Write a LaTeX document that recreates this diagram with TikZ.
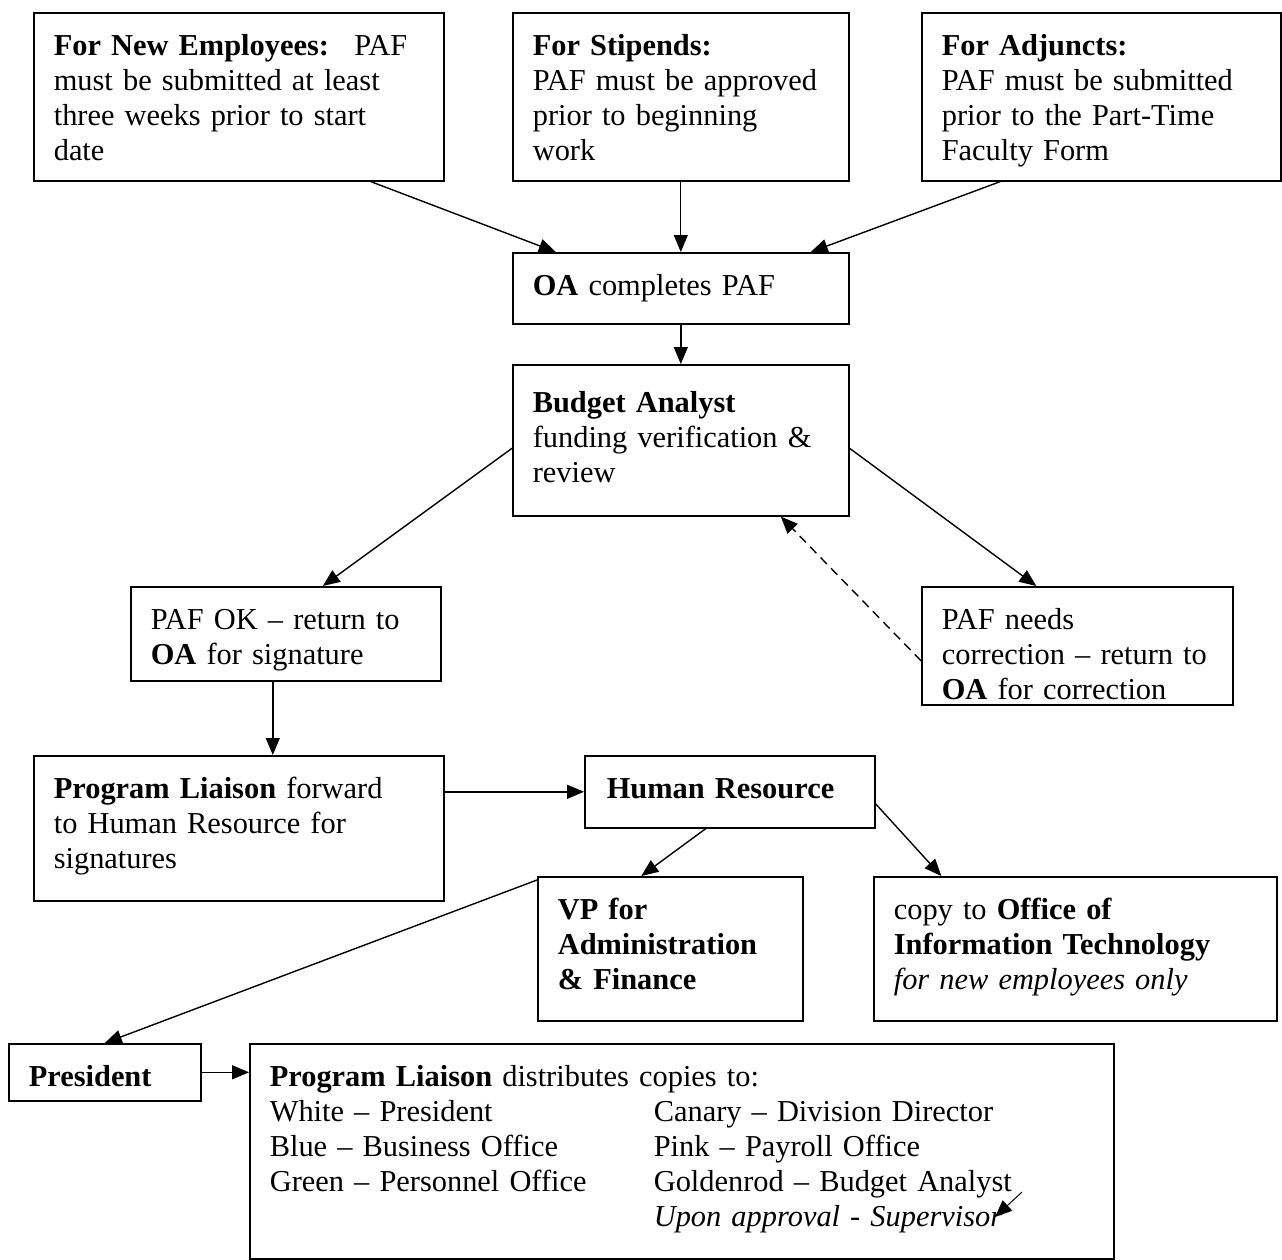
\documentclass[tikz,border=0pt]{standalone}
\usepackage{fontspec}
\setmainfont{Liberation Serif}
\usetikzlibrary{arrows.meta}

\begin{document}
\begin{tikzpicture}[x=1pt,y=-1pt,font=\fontsize{30.4}{35}\selectfont]
    % Define styles
    \tikzset{
        stepbox/.style={rectangle, draw, line width=1.6pt, anchor=north west, align=left,
            inner xsep=20pt, inner ysep=0pt, text height=43pt},
        arrow/.style={-{Triangle[length=17pt,width=14pt]}, line width=1.4pt},
        backarrow/.style={arrow, dashed, dash pattern=on 9pt off 6pt},
    }
    \useasboundingbox (0,0) rectangle (1282,1260);

    % Submission rules
    \node[stepbox, text width=370pt, text depth=125pt] (newemp) at (33,12)
        {\textbf{For New Employees:}~ PAF\\must be submitted at least\\three weeks prior to start\\date};
    \node[stepbox, text width=296pt, text depth=125pt] (stipends) at (512,12)
        {\textbf{For Stipends:}\\PAF must be approved\\prior to beginning\\work};
    \node[stepbox, text width=319pt, text depth=125pt] (adjuncts) at (921,12)
        {\textbf{For Adjuncts:}\\PAF must be submitted\\prior to the Part-Time\\Faculty Form};

    % Review
    \node[stepbox, text width=296pt, text depth=28pt] (oa) at (512,252)
        {\textbf{OA} completes PAF};
    \node[stepbox, text width=296pt, text height=48pt, text depth=103pt] (analyst) at (512,364)
        {\textbf{Budget Analyst}\\funding verification \&\\review};
    \node[stepbox, text width=270pt, text depth=51pt] (pafok) at (130,586)
        {PAF OK -- return to\\\textbf{OA} for signature};
    \node[stepbox, text width=271pt, text depth=75pt] (pafbad) at (921,586)
        {PAF needs\\correction -- return to\\\textbf{OA} for correction};

    % Signatures
    \node[stepbox, text width=370pt, text depth=102pt] (liaison) at (33,755)
        {\textbf{Program Liaison} forward\\to Human Resource for\\signatures};
    \node[stepbox, text width=250pt, text depth=29pt, inner xsep=22pt, text width=246pt] (hr) at (584,755)
        {\textbf{Human Resource}};
    \node[stepbox, text width=225pt, text depth=101pt] (vp) at (537,876)
        {\textbf{VP for}\\\textbf{Administration}\\\textbf{\& Finance}};
    \node[stepbox, text width=363pt, text depth=101pt] (oit) at (873,876)
        {copy to \textbf{Office of}\\\textbf{Information Technology}\\\textit{for new employees only}};
    \node[stepbox, text width=152pt, text depth=14pt] (president) at (8,1043)
        {\textbf{President}};
    \node[stepbox, text width=824pt, text depth=172pt] (copies) at (249,1043)
        {\begin{tabular}[t]{@{}p{384pt}@{}l@{}}
         \multicolumn{2}{@{}l@{}}{\textbf{Program Liaison} distributes copies to:}\\
         White -- President & Canary -- Division Director\\
         Blue -- Business Office & Pink -- Payroll Office\\
         Green -- Personnel Office & Goldenrod -- Budget Analyst\\
         & \textit{Upon approval - Supervisor}
         \end{tabular}};

    \coordinate (noteA) at (1022,1192);
    \coordinate (noteB) at (995,1217);

    % Connectors
    \draw[arrow] ([xshift=132pt]newemp.south) -- ([xshift=-125pt]oa.north);
    \draw[arrow, line width=1pt] (stipends.south) -- (oa.north);
    \draw[arrow] ([xshift=-101pt]adjuncts.south) -- ([xshift=130pt]oa.north);
    \draw[arrow] (oa.south) -- (analyst.north);
    \draw[arrow] ([yshift=-8pt]analyst.west) -- ([xshift=37pt]pafok.north);
    \draw[arrow] ([yshift=-8pt]analyst.east) -- ([xshift=-41pt]pafbad.north);
    \draw[backarrow] ([yshift=-15pt]pafbad.west) -- ([xshift=100pt]analyst.south);
    \draw[arrow] ([xshift=-13pt]pafok.south) -- ([xshift=34pt]liaison.north);
    \draw[arrow] (liaison.east |- hr.west) -- (hr.west);
    \draw[arrow] ([xshift=-24pt]hr.south) -- ([xshift=-29pt]vp.north);
    \draw[arrow] ([yshift=-12pt]hr.east) -- ([xshift=-134pt]oit.north);
    \draw[arrow] ([yshift=-4pt]vp.north west) -- (president.north);
    \draw[arrow] (president.east) -- (president.east -| copies.west);
    \draw[arrow, line width=1pt] (noteA) -- (noteB);
\end{tikzpicture}
\end{document}
